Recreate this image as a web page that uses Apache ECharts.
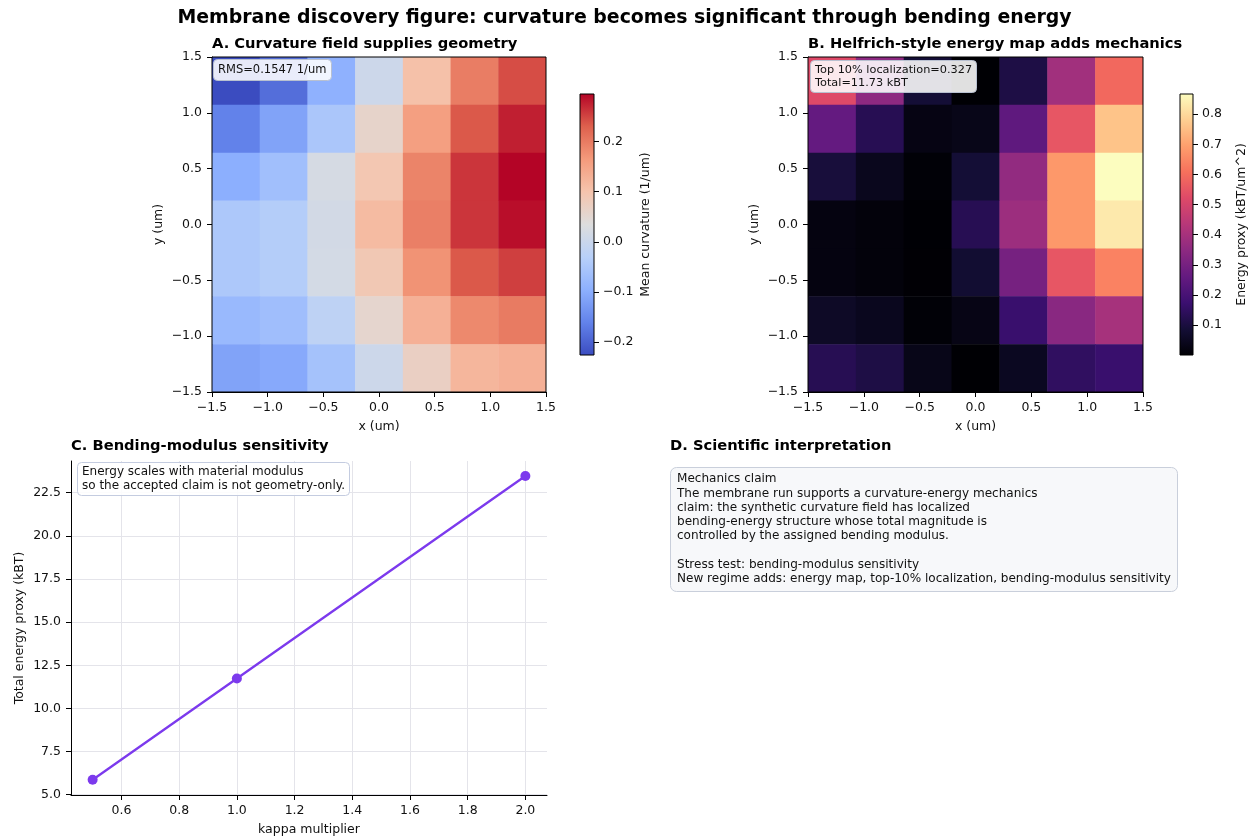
<!DOCTYPE html>
<html><head><meta charset="utf-8">
<script src="https://cdn.jsdelivr.net/npm/echarts@6/dist/echarts.min.js"></script>
<style>html,body{margin:0;padding:0;background:#fff}#c{width:1249px;height:838px}</style>
</head><body><div id="c"></div>
<script>
// ---------------- data ----------------
const mapExtent = [-1.5, 1.5];
const mapTicks = [-1.5, -1.0, -0.5, 0.0, 0.5, 1.0, 1.5];
// rows listed from top (y = +1.29) to bottom (y = -1.29); columns left to right
const curvatureRows = [
  [-0.226, -0.185, -0.093, 0.005, 0.105, 0.197, 0.243],
  [-0.161, -0.114, -0.050, 0.060, 0.157, 0.235, 0.276],
  [-0.097, -0.066,  0.020, 0.093, 0.190, 0.260, 0.295],
  [-0.047, -0.036,  0.015, 0.114, 0.195, 0.260, 0.288],
  [-0.047, -0.036,  0.017, 0.090, 0.173, 0.235, 0.253],
  [-0.077, -0.067, -0.020, 0.055, 0.130, 0.184, 0.200],
  [-0.114, -0.105, -0.059, 0.004, 0.070, 0.122, 0.130]
];
const energyRows = [
  [0.52, 0.35, 0.087, 0.001, 0.11, 0.39, 0.59],
  [0.26, 0.13, 0.026, 0.035, 0.25, 0.55, 0.76],
  [0.095, 0.043, 0.005, 0.087, 0.36, 0.68, 0.867],
  [0.022, 0.013, 0.002, 0.13, 0.38, 0.68, 0.83],
  [0.022, 0.013, 0.003, 0.08, 0.30, 0.55, 0.64],
  [0.06, 0.045, 0.005, 0.03, 0.17, 0.34, 0.40],
  [0.13, 0.11, 0.035, 0.0005, 0.05, 0.15, 0.17]
];
const curvatureTicks = [-0.2, -0.1, 0.0, 0.1, 0.2];
const energyTicks = [0.1, 0.2, 0.3, 0.4, 0.5, 0.6, 0.7, 0.8];
const kappaMultipliers = [0.5, 1.0, 2.0];
const totalEnergy = [5.865, 11.73, 23.46];
const kappaTicks = [0.6, 0.8, 1.0, 1.2, 1.4, 1.6, 1.8, 2.0];
const totalEnergyTicks = [5.0, 7.5, 10.0, 12.5, 15.0, 17.5, 20.0, 22.5];

// ---------------- colour maps ----------------
const coolwarm = ['#3b4cc0', '#6282ea', '#8db0fe', '#b8d0f9', '#dddddd', '#f5c4ad', '#f49a7b', '#de604d', '#b40426'];
const magma = ['#000004', '#140e36', '#3b0f70', '#641a80', '#8c2981', '#b73779', '#de4968', '#f7705c', '#fe9f6d', '#fecf92', '#fcfdbf'];

const FONT = 'DejaVu Sans';
const INK = '#111';
const fmt = v => (Math.abs(v) < 1e-9 ? 0 : v).toFixed(1).replace('-', '\u2212');

function cells(rows) {
  const n = rows.length, w = (mapExtent[1] - mapExtent[0]) / n;
  const out = [];
  rows.forEach((row, r) => row.forEach((v, c) => {
    const x0 = mapExtent[0] + c * w, yTop = mapExtent[1] - r * w;
    out.push([x0, x0 + w, yTop - w, yTop, v]);
  }));
  return out;
}
const flat = a => a.reduce((s, r) => s.concat(r), []);
const cMin = Math.min(...flat(curvatureRows)), cMax = Math.max(...flat(curvatureRows));
const eMin = Math.min(...flat(energyRows)), eMax = Math.max(...flat(energyRows));

function cellRender(params, api) {
  const p0 = api.coord([api.value(0), api.value(3)]);
  const p1 = api.coord([api.value(1), api.value(2)]);
  const cs = params.coordSys;
  const x1 = Math.min(p1[0] + 0.5, cs.x + cs.width), y1 = Math.min(p1[1] + 0.5, cs.y + cs.height);
  return { type: 'rect', shape: { x: p0[0], y: p0[1], width: x1 - p0[0], height: y1 - p0[1] },
           style: { fill: api.visual('color'), stroke: null } };
}
function barRender(colors) {
  return function (params, api) {
    const p0 = api.coord([api.value(0), api.value(3)]);
    const p1 = api.coord([api.value(1), api.value(2)]);
    const stops = colors.map((c, i) => ({ offset: i / (colors.length - 1), color: c }));
    return { type: 'rect', shape: { x: p0[0], y: p0[1], width: p1[0] - p0[0], height: p1[1] - p0[1] },
             style: { fill: new echarts.graphic.LinearGradient(0, 1, 0, 0, stops), stroke: '#000', lineWidth: 1 } };
  };
}

const tickLabel = { color: INK, fontFamily: FONT, fontSize: 12.5 };
const nameStyle = { color: INK, fontFamily: FONT, fontSize: 12.5 };
function mapXAxis(grid) {
  return { gridIndex: grid, type: 'value', min: mapExtent[0], max: mapExtent[1], interval: 0.5,
    name: 'x (um)', nameLocation: 'middle', nameGap: 28, nameTextStyle: nameStyle,
    axisLine: { onZero: false, lineStyle: { color: '#000', width: 1 } }, axisTick: { length: 5, lineStyle: { color: '#000' } },
    axisLabel: Object.assign({ formatter: fmt, margin: 9 }, tickLabel), splitLine: { show: false } };
}
function mapYAxis(grid) {
  return { gridIndex: grid, type: 'value', min: mapExtent[0], max: mapExtent[1], interval: 0.5,
    name: 'y (um)', nameLocation: 'middle', nameGap: 47, nameRotate: 90, nameTextStyle: nameStyle,
    axisLine: { onZero: false, lineStyle: { color: '#000', width: 1 } }, axisTick: { length: 5, lineStyle: { color: '#000' } },
    axisLabel: Object.assign({ formatter: fmt, margin: 10 }, tickLabel), splitLine: { show: false } };
}
function barYAxis(grid, min, max, ticks, name, gap) {
  return { gridIndex: grid, type: 'value', min: min, max: max, position: 'right',
    name: name, nameLocation: 'middle', nameGap: gap, nameRotate: 90, nameTextStyle: nameStyle,
    axisLine: { show: false, onZero: false },
    axisTick: { show: true, length: 5, customValues: ticks, lineStyle: { color: '#000' } },
    axisLabel: Object.assign({ formatter: fmt, margin: 9, customValues: ticks }, tickLabel), splitLine: { show: false } };
}
const hidden = g => ({ gridIndex: g, type: 'value', min: 0, max: 1, show: false, axisLine: { show: false, onZero: false } });

const boxText = (text, left, top, size, extra) => Object.assign({
  text: text, left: left, top: top, padding: [4, 5], backgroundColor: 'rgba(255,255,255,0.88)',
  borderColor: '#b8c0d0', borderWidth: 1, borderRadius: 4,
  textStyle: { fontFamily: FONT, fontSize: size, fontWeight: 'normal', color: INK, lineHeight: size + 2 }
}, extra || {});
const panelTitle = (text, left, top) => ({ text: text, left: left, top: top, padding: 0,
  textStyle: { fontFamily: FONT, fontSize: 14.7, fontWeight: 'bold', color: '#000' } });

const option = {
  backgroundColor: '#fff',
  animation: false,
  title: [
    { text: 'Membrane discovery figure: curvature becomes significant through bending energy', left: 'center', top: 9, padding: 0,
      textStyle: { fontFamily: FONT, fontSize: 18.9, fontWeight: 'bold', color: '#000' } },
    panelTitle('A. Curvature field supplies geometry', 212, 37),
    panelTitle('B. Helfrich-style energy map adds mechanics', 808, 37),
    panelTitle('C. Bending-modulus sensitivity', 71, 439),
    panelTitle('D. Scientific interpretation', 670, 439),
    boxText('RMS=0.1547 1/um', 213, 59, 11.5),
    boxText('Top 10% localization=0.327\nTotal=11.73 kBT', 810, 60, 11.3, { padding: [3, 5] }),
    boxText('Energy scales with material modulus\nso the accepted claim is not geometry-only.', 77, 462, 12, { padding: [3, 5], borderColor: '#c4cce0' }),
    { text: 'Mechanics claim\nThe membrane run supports a curvature-energy mechanics\nclaim: the synthetic curvature field has localized\nbending-energy structure whose total magnitude is\ncontrolled by the assigned bending modulus.\n\nStress test: bending-modulus sensitivity\nNew regime adds: energy map, top-10% localization, bending-modulus sensitivity',
      left: 670, top: 467, padding: [5, 7, 5, 7], backgroundColor: '#f7f8fa', borderColor: '#c9cfdb', borderWidth: 1, borderRadius: 6,
      textStyle: { fontFamily: FONT, fontSize: 12.05, fontWeight: 'normal', color: INK, lineHeight: 14.3 } }
  ],
  grid: [
    { left: 212, top: 57, width: 334, height: 335, show: true, z: 10, borderColor: '#000', borderWidth: 1, backgroundColor: 'transparent' },
    { left: 580, top: 94, width: 14, height: 261 },
    { left: 808, top: 57, width: 335, height: 335, show: true, z: 10, borderColor: '#000', borderWidth: 1, backgroundColor: 'transparent' },
    { left: 1180, top: 94, width: 13, height: 261 },
    { left: 71, top: 461, width: 476, height: 334 }
  ],
  xAxis: [
    mapXAxis(0), hidden(1), mapXAxis(2), hidden(3),
    { gridIndex: 4, type: 'value', min: 0.425, max: 2.075,
      name: 'kappa multiplier', nameLocation: 'middle', nameGap: 28, nameTextStyle: nameStyle,
      axisLine: { onZero: false, lineStyle: { color: '#000', width: 1 } },
      axisTick: { length: 5, customValues: kappaTicks, lineStyle: { color: '#000' } },
      axisLabel: Object.assign({ formatter: fmt, margin: 9, customValues: kappaTicks }, tickLabel),
      splitLine: { show: true, lineStyle: { color: '#e4e4ea', width: 1 } } }
  ],
  yAxis: [
    mapYAxis(0), barYAxis(1, cMin, cMax, curvatureTicks, 'Mean curvature (1/um)', 45),
    mapYAxis(2), barYAxis(3, eMin, eMax, energyTicks, 'Energy proxy (kBT/um^2)', 42),
    { gridIndex: 4, type: 'value', min: 4.985, max: 24.33,
      name: 'Total energy proxy (kBT)', nameLocation: 'middle', nameGap: 45, nameRotate: 90, nameTextStyle: nameStyle,
      axisLine: { show: true, onZero: false, lineStyle: { color: '#000', width: 1 } },
      axisTick: { show: true, length: 5, customValues: totalEnergyTicks, lineStyle: { color: '#000' } },
      axisLabel: Object.assign({ formatter: fmt, margin: 10, customValues: totalEnergyTicks }, tickLabel),
      splitLine: { show: true, lineStyle: { color: '#e4e4ea', width: 1 } } }
  ],
  visualMap: [
    { type: 'continuous', show: false, seriesIndex: 0, dimension: 4, min: cMin, max: cMax, inRange: { color: coolwarm } },
    { type: 'continuous', show: false, seriesIndex: 2, dimension: 4, min: eMin, max: eMax, inRange: { color: magma } }
  ],
  series: [
    { type: 'custom', xAxisIndex: 0, yAxisIndex: 0, renderItem: cellRender, encode: { x: [0, 1], y: [2, 3] }, data: cells(curvatureRows) },
    { type: 'custom', xAxisIndex: 1, yAxisIndex: 1, renderItem: barRender(coolwarm), encode: { x: [0, 1], y: [2, 3] }, data: [[0, 1, cMin, cMax]] },
    { type: 'custom', xAxisIndex: 2, yAxisIndex: 2, renderItem: cellRender, encode: { x: [0, 1], y: [2, 3] }, data: cells(energyRows) },
    { type: 'custom', xAxisIndex: 3, yAxisIndex: 3, renderItem: barRender(magma), encode: { x: [0, 1], y: [2, 3] }, data: [[0, 1, eMin, eMax]] },
    { type: 'line', xAxisIndex: 4, yAxisIndex: 4, data: kappaMultipliers.map((k, i) => [k, totalEnergy[i]]),
      symbol: 'circle', symbolSize: 10, lineStyle: { color: '#7c3aed', width: 2.3 }, itemStyle: { color: '#7c3aed' }, z: 3 }
  ]
};
const chart = echarts.init(document.getElementById('c'), null, { renderer: 'canvas' });
chart.setOption(option);
</script>
</body></html>
